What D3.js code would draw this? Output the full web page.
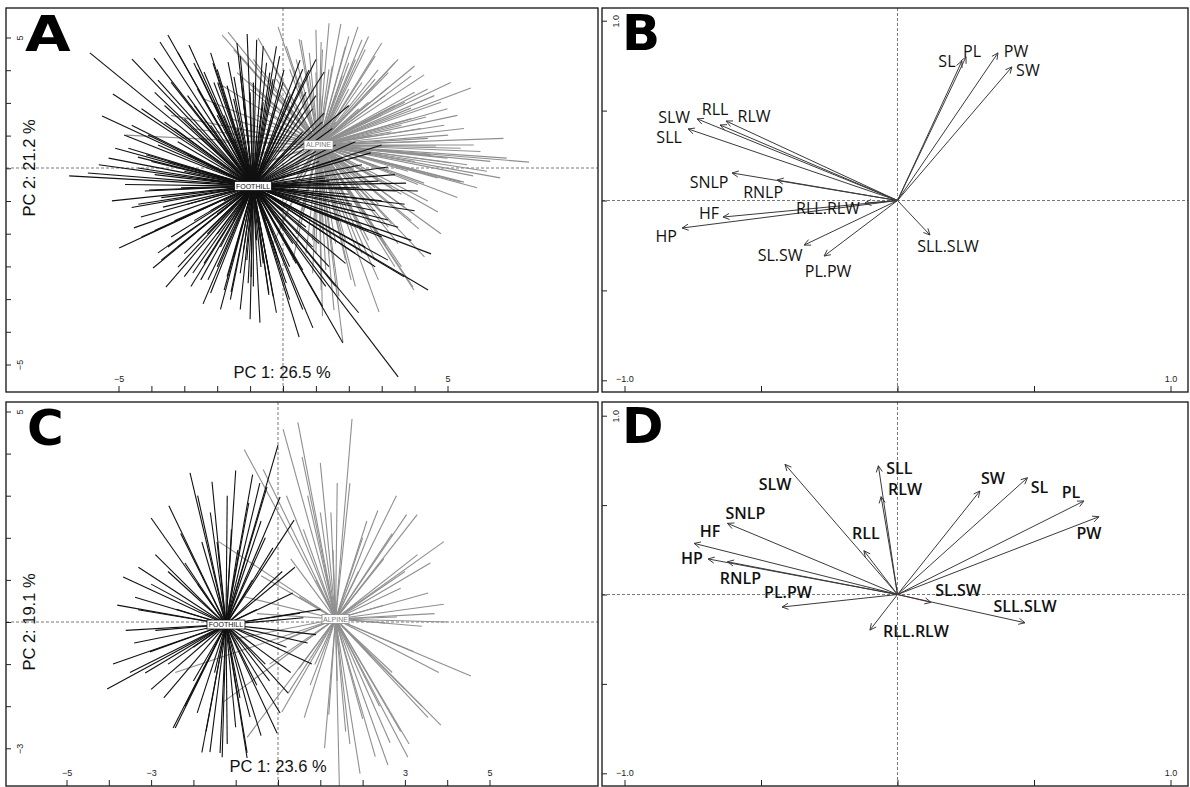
<!DOCTYPE html>
<html><head><meta charset="utf-8">
<script src="https://cdn.jsdelivr.net/npm/d3@7"></script>
<style>body{margin:0;background:#fff}</style>
</head><body>
<svg id="c" width="1190" height="787"></svg>
<script>
// ---------------- DATA ----------------
const groups = ["FOOTHILL", "ALPINE"];
// Panel A (PCA scores, PC1 / PC2)
const titlesA = ["PC 1: 26.5 %", "PC 2: 21.2 %"];
const centroidsA = [[-0.91, -0.55], [1.08, 0.70]];
const foothillA = [
 [-6.5,-0.24],[-5.93,-0.15],[-5.87,3.5],[-5.5,1.58],[-5.17,2.25],[-4.83,1.0],[-4.59,3.31],[-4.41,0.33],[-4.16,0.4],[-3.92,3.34],
 [-3.8,2.67],[-3.74,3.83],[-3.5,4.04],[-3.19,3.5],[-2.86,3.74],[-2.71,3.19],[-2.4,2.92],[-2.13,3.19],[-1.98,2.58],[-1.67,3.22],
 [-1.49,2.77],[-1.09,4.07],[0.03,2.98],[0.52,3.28],[0.79,2.98],[1.25,2.92],[1.25,1.67],[2.67,0.46],[3.19,0.03],[3.74,-0.46],
 [3.43,-0.7],[3.19,-1.58],[4.5,-2.61],[4.41,-3.71],[3.68,-3.31],[3.19,-2.8],[3.5,-6.35],[1.82,-5.32],[0.91,-4.86],[0.49,-5.14],
 [-0.43,-3.8],[-0.97,-3.31],[-4.98,-2.43],[-4.53,-1.82],[-3.95,-3.04],[-3.56,-3.62],[-2.43,-4.13],[-1.79,-3.71],[-1.58,-3.77],[-0.43,-3.86],
 [-3.65,-1.19],[-4.07,-0.67],[-2.28,-3.4],[-1.06,-3.5],[-0.67,-3.01],[-2.74,-3.19],[-3.19,-3.01],[-3.8,-2.58],[-3.4,-2.1],[-4.32,-1.49],
 [3.0,-1.0],[2.6,-1.9],[2.2,-2.6],[3.9,-2.2],[2.8,-3.0],[1.6,-3.6],[1.2,-4.2],[2.3,-4.4],[0.2,-4.0],[3.4,-0.2],
 [2.4,0.1],[1.9,-0.5],[4.0,-1.3],[1.0,2.2],[0.4,2.5],[-0.3,2.7],[-0.6,3.7],[-0.1,3.4],[-2.9,2.2],[-3.6,1.9],
 [-4.6,1.3],[-5.1,0.6],[-5.6,0.1],[-4.8,-0.5],[-5.2,-1.0],[-4.4,-1.1],[-3.9,-1.9],[-3.0,-2.6],[-2.2,-3.8],[-1.3,-4.3],
 [-0.7,-4.7],[-0.2,-4.4],[0.6,-3.1],[-2.0,1.6],[-1.2,2.0],[-3.2,0.8],[-2.6,-0.3],[-2.0,-1.4],[-1.2,-2.5],[-0.3,-2.0],
 [0.8,-1.5],[1.4,-0.4],[1.0,0.5],[-0.4,1.2],[-1.5,0.9],
 [-2.5,0.9],[-2.2,1.3],[-1.8,1.6],[-1.5,2.1],[-1.0,2.3],[-0.6,2.0],[-0.2,1.9],[0.3,1.6],[0.6,1.1],[0.9,0.6],
 [1.1,0.2],[1.3,-0.3],[1.2,-0.8],[1.0,-1.3],[0.7,-1.8],[0.3,-2.3],[-0.2,-2.6],[-0.6,-2.9],[-1.1,-2.8],[-1.5,-2.7],
 [-1.9,-2.4],[-2.3,-2.0],[-2.7,-1.6],[-2.9,-1.1],[-3.1,-0.6],[-3.0,-0.1],[-2.9,0.4],[-3.6,1.4],[-4.0,0.2],[-3.7,-0.9],
 [-3.3,-1.6],[-2.4,-2.9],[-1.7,-3.3],[-0.9,-3.6],[-0.4,-3.3],[0.4,-2.9],[1.1,-2.3],[1.7,-1.6],[2.1,-1.1],[2.3,-0.6],
 [1.8,0.3],[1.5,1.2],[0.9,1.8],[0.2,2.2],[-0.4,2.9],[-1.3,2.9],[-2.1,2.6],[-2.7,1.9],[-3.3,1.2],[-3.8,0.7],
 [-4.4,0.0],[-4.2,-0.7],[-3.5,-2.4],[-2.8,-3.6],[-1.9,-4.3],[-1.0,-4.6],[0.1,-3.5],[1.4,-3.0],[2.5,-1.4],
 [-1.4,1.2],[-1.9,0.4],[-2.3,0.1],[-1.6,-0.2],[-1.2,0.6],[-0.8,1.0],[-2.1,2.0],[-2.5,1.5],[-3.0,1.5],[-2.6,2.4],
 [-2.0,3.0],[-1.7,2.5],[-1.3,3.4],[-0.9,2.6],[-0.5,3.2],[-3.4,2.6],[-3.9,2.3],[-4.3,1.8],[-4.1,1.0],[-3.5,0.2],
 [-4.7,0.6],[-5.3,0.3],[-2.2,3.5],[-2.6,3.0],[-1.4,3.8],
 [-1.8,-1.0],[-2.2,-1.3],[-1.5,-1.6],[-2.6,-2.2],[-3.2,-2.4],[-3.0,-3.3],[-2.0,-3.0],[-1.3,-3.2],[-1.6,-4.0],[-2.5,-3.4],
 [-3.7,-2.8],[-4.3,-2.1],[-4.6,-1.2],[-3.9,-0.2],[-2.0,-2.0],[-1.0,-1.8],[-0.8,-2.2],[-0.5,-1.6],[-1.3,-1.2],
 [0.0,-1.3],[0.5,-1.0],[0.9,-2.4],[0.2,-3.0],[-0.3,-3.9],[0.6,-4.3],[1.3,-3.6],[1.9,-2.9],[2.5,-2.4],[3.0,-2.1],
 [3.5,-1.8],[2.8,-1.3],[2.0,-0.8],[1.5,-0.9],[3.7,-1.1],[4.1,-0.7],[2.9,-0.4],[0.1,-1.9],[-0.1,-2.9],[1.6,-2.2],
 [0.0,1.3],[0.4,0.8],[-0.3,0.5],[0.7,2.3],[1.2,1.4],[1.6,0.7],[2.2,0.8],[0.0,2.6],[0.6,3.0],[-0.2,3.7],
 [-0.8,3.9],[1.0,3.3],[2.0,1.9],[3.0,0.7]
];
const alpineA = [
 [-0.15,4.29],[-0.76,3.95],[1.76,4.38],[2.28,4.29],[1.16,3.83],[0.49,3.92],[2.89,2.98],[4.29,2.83],[5.71,2.43],[4.35,1.55],
 [5.02,1.0],[4.65,0.67],[7.48,0.18],[5.78,-0.24],[5.5,-0.43],[4.29,-0.46],[5.11,0.15],[3.89,1.82],[3.22,2.46],[4.71,-1.34],
 [4.13,-1.85],[3.95,-3.62],[2.92,-4.38],[2.07,-3.4],[1.55,-4.32],[1.16,-3.71],[5.41,-0.43],[-4.77,1.0],[-1.85,4.04],[-1.67,4.13],
 [-0.58,3.65],[0.55,3.89],[1.82,-5.29],[3.13,-2.34],[3.98,-3.71],
 [2.0,2.4],[2.6,2.0],[3.0,1.6],[3.3,1.1],[3.5,0.5],[3.2,-0.1],[2.8,-0.6],[2.3,-1.2],[1.8,-1.6],[1.2,-1.9],
 [0.6,-1.4],[0.1,-0.8],[-0.3,-0.2],[-0.5,0.6],[-0.4,1.4],[0.0,2.1],[0.5,2.6],[1.0,2.9],[1.5,3.1],[2.2,3.3],
 [2.8,2.7],[3.7,2.0],[4.2,1.2],[4.5,0.4],[4.1,-0.5],[3.7,-1.2],[3.2,-1.8],[2.6,-2.2],[1.9,-2.8],[1.3,-3.1],
 [0.7,-2.6],[-0.1,-1.8],[-0.8,-0.9],[-1.4,0.3],[-1.6,1.5],[-1.0,2.4],[-0.3,3.1],[0.8,3.5],[2.4,3.9],[3.4,3.2],
 [4.6,2.2],[5.3,1.6],[5.8,0.7],[6.3,0.2],[5.3,-0.9],[4.8,-2.0],[4.3,-2.7],[3.4,-3.0],
 [3.5,3.3],[2.5,3.6],[2.0,3.2],[4.0,2.3],[4.8,2.0],[3.6,1.3],[5.5,1.2],[6.0,0.5],[4.0,0.2],[6.2,-0.1],
 [3.6,-0.8],[2.6,-1.5],[3.3,-1.7],[2.4,-2.6],[1.9,-2.2],[1.4,-2.6],[0.9,-2.2],[0.5,-1.5],[0.2,-0.8],[-0.5,-0.3],
 [-1.2,0.4],[-1.8,1.3],[-2.4,2.1],[-1.0,2.6],[-0.2,2.2],[0.2,3.0],[0.8,2.8],[1.4,3.0],[1.6,2.2],[2.3,1.8],
 [2.7,1.0],[3.0,0.4],[2.2,-0.3],[1.6,-1.1],[1.2,0.0],[0.6,1.4],[0.0,1.0],[-0.6,1.8],[-1.4,2.9],[2.6,4.0],
 [1.4,4.4],[3.0,3.8],[3.6,-3.0],[2.8,-2.8],[4.4,0.9],
 [1.6,1.4],[2.1,1.2],[2.4,0.6],[2.1,0.0],[1.7,-0.4],[1.0,-0.7],[0.4,-0.3],[0.2,0.3],[0.3,1.0],[0.6,1.9],
 [1.2,2.2],[1.8,2.8],[2.4,2.6],[3.1,2.2],[3.4,1.9],[3.9,1.5],[4.1,0.8],[3.8,-0.1],[3.3,-0.6],[2.9,-1.1],
 [2.4,-1.9],[1.6,-2.3],[1.0,-2.6],[0.4,-2.0],[0.0,-1.2],[-0.6,-0.6],[-1.0,0.0],[-1.2,1.0],[-0.8,1.6],[-0.2,2.7],
 [0.4,3.3],[1.2,3.6],[1.9,3.7],[2.8,3.4],[3.9,2.8],[4.4,2.4],[5.0,1.8],[4.9,1.3],[5.4,0.6],[5.0,0.3],
 [4.7,-0.3],[4.4,-1.0],[3.9,-1.6],[3.5,-2.3],[2.9,-3.4],[2.2,-3.6],[1.7,-3.9],[1.2,-4.5],[0.9,-3.2],[0.3,-2.8],
 [-0.3,-2.3],[-1.1,-1.4],[-1.7,-0.2],[-2.0,0.8],[-2.8,1.2],[-3.4,1.6],[-2.0,2.6],[-1.5,3.6],[-0.9,3.3],[0.1,3.7],
 [1.0,4.2],[2.0,4.0],[3.2,2.9],[4.0,3.1],[5.1,2.6],[6.7,0.9],[6.8,0.3],[5.9,-0.6],[6.6,-0.3],[5.6,0.1]
];
// Panel C
const titlesC = ["PC 1: 23.6 %", "PC 2: 19.1 %"];
const centroidsC = [[-1.23, -0.06], [1.36, 0.07]];
const foothillC = [
 [0.0,4.2],[0.05,2.97],[0.38,2.42],[-2.08,3.54],[-2.58,2.76],[-3.0,2.47],[-1.56,3.33],[-3.66,1.07],[-3.38,0.59],[-4.04,-1.59],
 [-3.03,-0.71],[-2.48,-2.52],[-1.61,-3.09],[-1.37,-3.11],[-0.73,-3.11],[-0.02,-2.64],[0.05,-2.16],[0.24,-1.69],[0.35,0.69],[0.52,0.21],
 [-0.26,3.21],[-0.43,3.3],[-0.69,2.83],[-0.95,1.71],[-3.31,0.29],[-3.14,-1.21],[-1.91,-2.16],[-0.66,-2.26],[-1.44,1.9],[-1.32,-3.21],
 [-0.73,-3.23],[-0.12,1.76],[-2.43,-2.52],
 [0.6,0.1],[-0.5,0.3],[-1.9,0.9],[-2.4,0.3],[-2.9,-0.2],[-2.6,-1.0],[-2.0,-1.4],[-0.3,-1.0],[0.2,-0.6],[-1.6,2.6],
 [-1.1,2.2],[-0.9,-1.8],[-2.2,1.4],[-3.4,-0.5],[-2.7,-1.8],[-1.9,3.0],[-1.0,3.6],[0.4,1.3],[-0.2,-1.4],[-3.5,-1.2],
 [-1.2,-2.9],[-1.7,-2.6],[-0.4,2.4],[-2.9,1.6],[0.9,-0.3],[-3.0,0.9],
 [-1.8,1.9],[-2.3,2.1],[-1.2,3.0],[-0.6,3.5],[-0.3,2.0],[0.1,1.2],[-0.6,1.0],[-2.6,1.2],[-3.3,1.3],[-3.8,0.4],
 [-3.6,-0.2],[-3.0,-1.6],[-2.2,-2.0],[-1.8,-3.1],[-1.0,-2.5],[-0.4,-2.7],[-0.5,-1.5],[0.3,-1.2],[0.8,-1.0],[0.7,-0.5],
 [1.0,0.3],[-2.0,-0.6],[-1.5,-1.2],[-3.9,-1.0]
];
const alpineC = [
 [1.75,4.82],[0.47,4.74],[0.12,4.58],[-0.8,4.1],[-0.35,3.62],[2.36,2.65],[3.04,2.55],[3.29,2.55],[3.92,1.91],[3.55,0.69],
 [3.92,0.42],[2.81,0.12],[2.53,-0.02],[4.56,-1.28],[3.85,-2.45],[3.07,-3.21],[2.65,-2.87],[1.94,-3.6],[0.62,-2.27],[0.76,-1.5],
 [0.24,-1.69],[0.09,-2.14],[0.87,-1.01],[1.3,1.71],[-1.4,1.91],[-1.32,-1.92],[-0.73,-2.74],[-2.43,-1.2],[3.55,-2.27],
 [1.0,3.78],[0.57,3.92],[0.2,3.0],[0.6,2.2],[-0.4,1.1],[-0.8,0.6],[-1.0,-0.4],[3.6,1.4],[3.0,1.2],[2.5,1.5],
 [3.4,-0.1],[2.2,-0.8],[3.0,-1.6],[2.4,-2.0],[1.6,-2.6],[1.1,-3.0],[1.4,-1.4],[2.0,2.0],[0.5,0.6],[0.2,-0.4],
 [-0.2,-1.0],[1.0,2.6],[1.7,3.3],[2.8,3.0],[2.9,-2.6],[1.25,2.6],[1.45,-3.9],
 [2.1,2.4],[2.7,2.1],[3.3,1.6],[2.9,0.8],[3.7,0.2],[3.2,-0.7],[2.7,-1.2],[3.4,-2.0],[2.0,-2.3],[2.3,-3.2],
 [1.7,-2.9],[1.2,-2.2],[0.5,-1.1],[0.0,-0.5],[-0.5,0.2],[0.3,1.5],[0.7,3.0],[1.4,3.3],[1.9,1.2],[2.5,0.4],
 [4.0,0.0],[3.8,-1.2],[3.1,-2.9],[2.6,-3.4],[0.9,1.0]
];
// Panel B (variable loadings)
const varsB = ["SL","PL","PW","SW","SLW","RLL","RLW","SLL","SNLP","RNLP","RLL.RLW","HF","HP","SL.SW","PL.PW","SLL.SLW"];
const axis1B = [0.236,0.251,0.368,0.419,-0.734,-0.650,-0.628,-0.767,-0.606,-0.441,-0.119,-0.639,-0.789,-0.342,-0.269,0.119];
const axis2B = [0.776,0.799,0.821,0.743,0.454,0.420,0.442,0.398,0.153,0.114,-0.014,-0.092,-0.153,-0.248,-0.309,-0.192];
// Panel D
const varsD = ["SLW","SLL","RLW","RLL","SW","SL","PL","PW","SNLP","HF","HP","RNLP","PL.PW","RLL.RLW","SL.SW","SLL.SLW"];
const axis1D = [-0.412,-0.070,-0.060,-0.123,0.302,0.476,0.683,0.738,-0.623,-0.745,-0.694,-0.623,-0.423,-0.101,0.123,0.467];
const axis2D = [0.728,0.720,0.547,0.245,0.579,0.653,0.523,0.435,0.398,0.286,0.199,0.183,-0.070,-0.199,-0.044,-0.158];

// ---------------- LAYOUT (pixels) ----------------
const labelNudgeB = [[-15,0],[6,-6],[18,-2],[16,3],[-23,-2],[-5,-16],[28,-5],[-19,8],[-23,9],[-14,12],[-37,5],[-14,-4],[-16,8],[-24,10],[4,15],[18,11]];
const labelNudgeD = [[-10,20],[21,2],[24,-8],[2,-18],[13,-13],[12,9],[-13,-9],[-10,16],[18,-10],[16,-12],[-16,-1],[13,16],[6,-15],[46,1],[27,-12],[0,-17]];

const svg = d3.select("#c");
const FONT = "'Liberation Sans', Arial, sans-serif";

const P = {
  A: {x0:6, y0:8, x1:598, y1:392},
  B: {x0:602, y0:8, x1:1188, y1:392},
  C: {x0:6, y0:402, x1:598, y1:786},
  D: {x0:602, y0:402, x1:1188, y1:786}
};

function clipFor(id, p){
  svg.append("clipPath").attr("id", id).append("rect")
    .attr("x", p.x0).attr("y", p.y0).attr("width", p.x1 - p.x0).attr("height", p.y1 - p.y0);
}
function frame(p){
  svg.append("rect").attr("x", p.x0).attr("y", p.y0).attr("width", p.x1 - p.x0).attr("height", p.y1 - p.y0)
    .attr("fill", "none").attr("stroke", "#222").attr("stroke-width", 1.4);
}
function dashed(p, xs, ys){
  const g = svg.append("g").attr("stroke", "#555").attr("stroke-width", 0.8).attr("stroke-dasharray", "3,2");
  g.append("line").attr("x1", xs(0)).attr("x2", xs(0)).attr("y1", p.y0).attr("y2", p.y1);
  g.append("line").attr("x1", p.x0).attr("x2", p.x1).attr("y1", ys(0)).attr("y2", ys(0));
}
function bottomAxis(p, scale, ticks, labeled, fmt){
  const ax = d3.axisTop(scale).tickValues(ticks).tickSize(6).tickPadding(4)
    .tickFormat(d => labeled.some(v => Math.abs(v - d) < 1e-9) ? fmt(d) : "");
  const g = svg.append("g").attr("transform", `translate(0,${p.y1})`).call(ax);
  g.select(".domain").remove();
  g.selectAll(".tick line").attr("stroke", "#222");
  g.selectAll(".tick text").attr("font-size", 9).attr("font-family", FONT).attr("fill", "#222");
}
function leftAxis(p, scale, ticks, labeled, fmt){
  const ax = d3.axisRight(scale).tickValues(ticks).tickSize(5)
    .tickFormat(d => labeled.some(v => Math.abs(v - d) < 1e-9) ? fmt(d) : "");
  const g = svg.append("g").attr("transform", `translate(${p.x0},0)`).call(ax);
  g.select(".domain").remove();
  g.selectAll(".tick line").attr("stroke", "#222");
  g.selectAll(".tick text").attr("x", 0).attr("dy", 0).attr("text-anchor", "middle")
    .attr("transform", "translate(17,0) rotate(-90)")
    .attr("font-size", 9).attr("font-family", FONT).attr("fill", "#222");
}
function panelLetter(txt, x, y, sx){
  svg.append("text").attr("transform", `translate(${x},${y}) scale(${sx},1)`).text(txt)
    .attr("font-family", "'DejaVu Sans', sans-serif").attr("font-weight", "bold").attr("font-size", 50).attr("fill", "#000");
}
function star(g, xs, ys, cen, pts, color, width){
  g.selectAll(null).data(pts).enter().append("line")
    .attr("x1", xs(cen[0])).attr("y1", ys(cen[1]))
    .attr("x2", d => xs(d[0])).attr("y2", d => ys(d[1]))
    .attr("stroke", color).attr("stroke-width", width);
}
function classLabel(g, xs, ys, cen, txt, color, stroke, w, h){
  const cx = xs(cen[0]), cy = ys(cen[1]);
  g.append("rect").attr("x", cx - w/2).attr("y", cy - h/2).attr("width", w).attr("height", h)
    .attr("fill", "#fff").attr("stroke", stroke).attr("stroke-width", 0.8);
  g.append("text").attr("x", cx).attr("y", cy).attr("text-anchor", "middle").attr("dominant-baseline", "central")
    .attr("font-family", FONT).attr("font-size", 7).attr("fill", color).text(txt);
}
function scorePanel(p, xs, ys, axXs, axYs, cents, foot, alp, titles, xTicks, xLab, yTicks, yLab, titleX, titleY, letter, lx, ly, fw, aw, lsx){
  const id = "clip" + letter;
  clipFor(id, p);
  dashed(p, xs, ys);
  const g = svg.append("g").attr("clip-path", `url(#${id})`);
  star(g, xs, ys, cents[1], alp, "#8f8f8f", 1.1);
  star(g, xs, ys, cents[0], foot, "#111", 1.1);
  classLabel(g, xs, ys, cents[1], groups[1], "#7a7a7a", "#888", aw, 9);
  classLabel(g, xs, ys, cents[0], groups[0], "#111", "#111", fw, 9);
  frame(p);
  bottomAxis(p, axXs, xTicks, xLab, d3.format("d"));
  leftAxis(p, axYs, yTicks, yLab, d3.format("d"));
  svg.append("text").attr("x", titleX).attr("y", p.y1 - 14).attr("text-anchor", "middle")
    .attr("font-family", FONT).attr("font-size", 16.5).attr("fill", "#111").text(titles[0]);
  svg.append("text").attr("transform", `translate(${p.x0 + 29},${titleY}) rotate(-90)`).attr("text-anchor", "middle")
    .attr("font-family", FONT).attr("font-size", 16.5).attr("fill", "#111").text(titles[1]);
  panelLetter(letter, lx, ly, lsx);
}
function arrowPanel(p, xs, ys, vars, a1, a2, nudges, letter, lx, ly, weight, special){
  const id = "clip" + letter;
  clipFor(id, p);
  dashed(p, xs, ys);
  const g = svg.append("g").attr("clip-path", `url(#${id})`);
  const ox = xs(0), oy = ys(0);
  vars.forEach((v, i) => {
    const tx = xs(a1[i]), ty = ys(a2[i]);
    const col = special.includes(v) ? "#8a2a2a" : "#3a3a3a";
    g.append("line").attr("x1", ox).attr("y1", oy).attr("x2", tx).attr("y2", ty).attr("stroke", col).attr("stroke-width", 1);
    const ang = Math.atan2(ty - oy, tx - ox), L = 7, a = Math.PI / 7;
    [-1, 1].forEach(s => {
      g.append("line").attr("x1", tx).attr("y1", ty)
        .attr("x2", tx - L * Math.cos(ang + s * a)).attr("y2", ty - L * Math.sin(ang + s * a))
        .attr("stroke", "#3a3a3a").attr("stroke-width", 1);
    });
  });
  vars.forEach((v, i) => {
    g.append("text").attr("x", xs(a1[i]) + nudges[i][0]).attr("y", ys(a2[i]) + nudges[i][1])
      .attr("text-anchor", "middle").attr("dominant-baseline", "central")
      .attr("font-family", "'Open Sans', sans-serif").attr("font-weight", weight).attr("font-size", 16).attr("fill", "#111").text(v);
  });
  frame(p);
  const f = d3.format(".1f");
  bottomAxis(p, xs, [-1, -0.5, 0, 0.5, 1], [-1, 1], f);
  leftAxis(p, ys, [-1, -0.5, 0, 0.5, 1], [1], f);
  panelLetter(letter, lx, ly, 1);
}

// ---------- Panel A ----------
{
  const p = P.A;
  const xs = d3.scaleLinear().domain([-5, 5]).range([118.5, 447.5]);
  const ys = d3.scaleLinear().domain([-5, 5]).range([168 + 164.5, 168 - 164.5]);
  const axYs = d3.scaleLinear().domain([-5, 5]).range([364.5, 37.5]);
  scorePanel(p, xs, ys, xs, axYs, centroidsA, foothillA, alpineA, titlesA,
    d3.range(-5, 6), [-5, 5], d3.range(-5, 6), [-5, 5], 282, 168, "A", 25, 51, 37, 29, 1.18);
}
// ---------- Panel C ----------
{
  const p = P.C;
  const xs = d3.scaleLinear().domain([-5, 5]).range([66.5, 489.5]);
  const ys = d3.scaleLinear().domain([-3, 5]).range([748.3, 411.5]);
  scorePanel(p, xs, ys, xs, ys, centroidsC, foothillC, alpineC, titlesC,
    d3.range(-5, 6), [-5, -3, 3, 5], d3.range(-3, 6), [-3, 5], 278, 622, "C", 27, 445, 38, 27, 1);
}
// ---------- Panel B ----------
{
  const p = P.B;
  const xs = d3.scaleLinear().domain([-1, 1]).range([624.5, 1170.5]);
  const ys = d3.scaleLinear().domain([-1, 1]).range([380.3, 20.7]);
  arrowPanel(p, xs, ys, varsB, axis1B, axis2B, labelNudgeB, "B", 622, 50, 400, []);
}
// ---------- Panel D ----------
{
  const p = P.D;
  const xs = d3.scaleLinear().domain([-1, 1]).range([624.5, 1170.5]);
  const ys = d3.scaleLinear().domain([-1, 1]).range([773.3, 415.7]);
  arrowPanel(p, xs, ys, varsD, axis1D, axis2D, labelNudgeD, "D", 622, 443, 600, ["SL.SW"]);
}
</script>
</body></html>
